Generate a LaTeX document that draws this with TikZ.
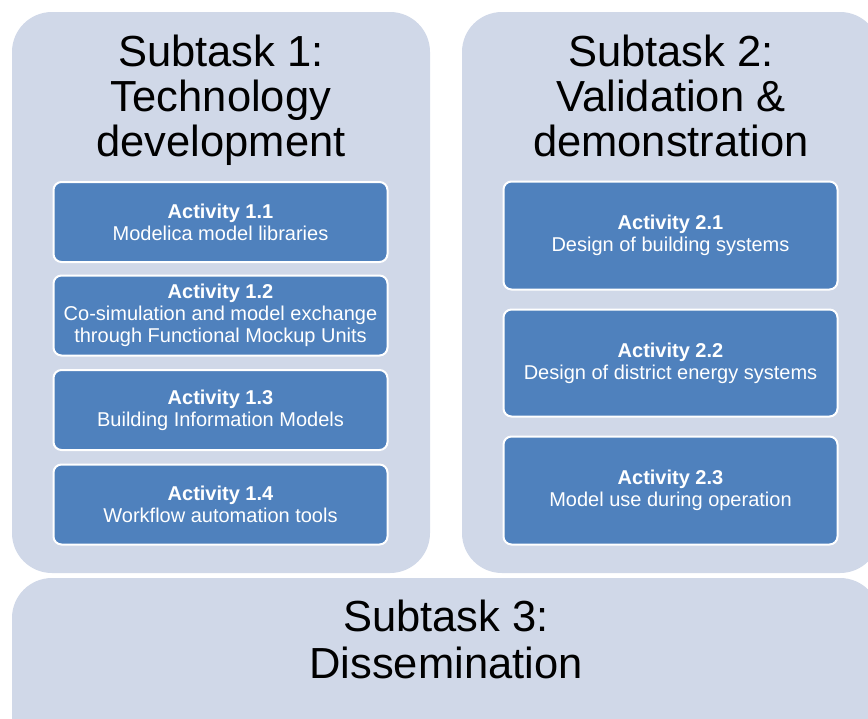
\documentclass[tikz,border=0pt]{standalone}
\usepackage{fontspec}
\setmainfont{Liberation Sans}
\definecolor{panelc}{RGB}{208,216,232}
\definecolor{actc}{RGB}{79,129,189}
\begin{document}
\begin{tikzpicture}[x=1pt,y=-1pt,
  panelbox/.style={fill=panelc, rounded corners=40pt},
  actbox/.style={draw=white, line width=2pt, fill=actc, rounded corners=8pt, text=white,
    align=center, font=\fontsize{20}{21.7}\selectfont, inner sep=0pt, minimum width=334pt},
  titleline/.style={font=\fontsize{43.5}{46}\selectfont, anchor=base, inner sep=0pt, text=black}]
\clip (0,0) rectangle (868,718);
\fill[white] (0,0) rectangle (868,718);
\fill[panelbox] (12,12) rectangle (430,573);
\fill[panelbox] (462,12) rectangle (880,573);
\fill[panelbox] (12,578) rectangle (880,760);

\node[titleline] (t1a) at (221,66.7) {Subtask 1:};
\node[titleline] (t1b) at (221,111.7) {Technology};
\node[titleline] (t1c) at (221,156.7) {development};

\node[titleline] (t2a) at (671,66.7) {Subtask 2:};
\node[titleline] (t2b) at (671,111.7) {Validation \&};
\node[titleline] (t2c) at (671,156.7) {demonstration};

\node[titleline] (t3a) at (446,631.7) {Subtask 3:};
\node[titleline] (t3b) at (446,678.3) {Dissemination};

\node[actbox, minimum height=80pt] (a11) at (220.5,222) {\textbf{Activity 1.1}\\Modelica model libraries};
\node[actbox, minimum height=80pt] (a12) at (220.5,315.5) {\textbf{Activity 1.2}\\Co-simulation and model exchange\\through Functional Mockup Units};
\node[actbox, minimum height=80pt] (a13) at (220.5,410) {\textbf{Activity 1.3}\\Building Information Models};
\node[actbox, minimum height=80pt] (a14) at (220.5,504.5) {\textbf{Activity 1.4}\\Workflow automation tools};

\node[actbox, minimum height=108pt] (a21) at (670.5,235.5) {\textbf{Activity 2.1}\\Design of building systems};
\node[actbox, minimum height=107pt] (a22) at (670.5,363) {\textbf{Activity 2.2}\\Design of district energy systems};
\node[actbox, minimum height=108pt] (a23) at (670.5,490.5) {\textbf{Activity 2.3}\\Model use during operation};
\end{tikzpicture}
\end{document}
